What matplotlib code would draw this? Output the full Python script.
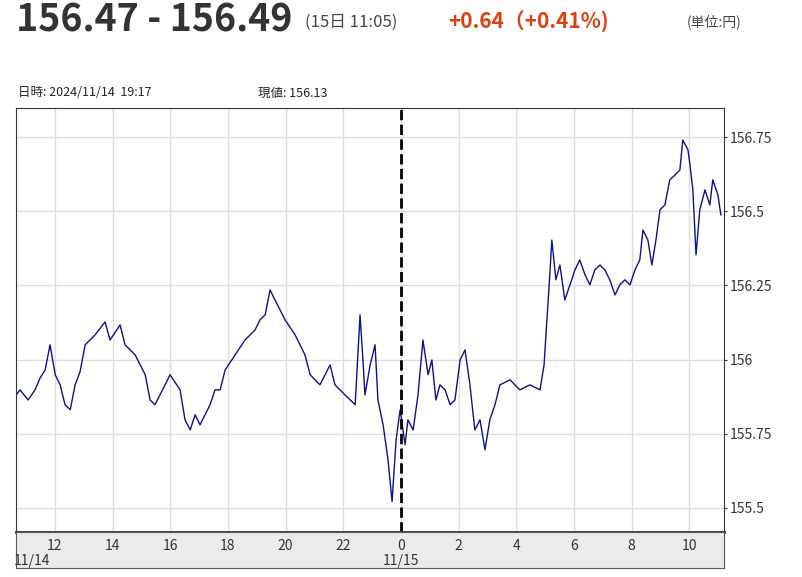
import matplotlib
matplotlib.use("Agg")
import matplotlib.pyplot as plt

plt.rcParams['font.family'] = ['Noto Sans CJK JP', 'DejaVu Sans']

# hours since 11/14 00:00
hours = [10.66,10.79,11.07,11.31,11.49,11.66,11.83,12.01,12.18,12.35,12.53,12.70,12.87,13.05,13.39,13.74,13.91,14.26,14.43,14.78,
         15.13,15.30,15.47,15.82,15.99,16.34,16.51,16.69,16.86,17.03,17.38,17.55,17.73,17.90,18.25,18.59,18.94,19.11,19.29,19.46,
         19.63,19.98,20.33,20.67,20.85,21.19,21.54,21.71,22.06,22.41,22.58,22.68,22.75,22.93,23.10,23.20,23.38,23.55,23.69,23.83,
         23.97,24.14,24.24,24.42,24.59,24.76,24.94,25.07,25.21,25.35,25.53,25.70,25.87,26.05,26.22,26.39,26.56,26.74,26.91,27.08,
         27.26,27.43,27.78,28.12,28.47,28.82,28.96,29.06,29.16,29.23,29.37,29.51,29.68,29.86,30.03,30.20,30.38,30.55,30.72,30.90,
         31.07,31.24,31.42,31.59,31.76,31.94,32.11,32.28,32.39,32.56,32.70,32.84,32.98,33.15,33.32,33.50,33.67,33.77,33.95,34.02,
         34.12,34.23,34.36,34.54,34.71,34.81,34.99,35.09]
prices = [155.881,155.898,155.864,155.898,155.939,155.965,156.050,155.949,155.915,155.848,155.831,155.915,155.959,156.050,156.083,156.127,156.066,156.117,156.050,156.016,
          155.949,155.864,155.848,155.915,155.949,155.898,155.797,155.763,155.814,155.780,155.848,155.898,155.898,155.965,156.016,156.066,156.100,156.134,156.151,156.235,
          156.201,156.134,156.083,156.016,155.949,155.915,155.982,155.915,155.881,155.848,156.151,155.999,155.881,155.982,156.050,155.864,155.780,155.662,155.521,155.730,
          155.831,155.713,155.797,155.763,155.881,156.066,155.949,155.999,155.864,155.915,155.898,155.848,155.864,155.999,156.033,155.915,155.763,155.797,155.696,155.797,
          155.848,155.915,155.932,155.898,155.915,155.898,155.982,156.134,156.286,156.403,156.269,156.319,156.201,156.252,156.302,156.336,156.286,156.252,156.302,156.319,
          156.302,156.269,156.218,156.252,156.269,156.252,156.302,156.336,156.437,156.403,156.319,156.403,156.505,156.521,156.606,156.622,156.639,156.740,156.707,156.656,
          156.572,156.353,156.505,156.572,156.521,156.606,156.555,156.488]

y_ticks = [155.5, 155.75, 156.0, 156.25, 156.5, 156.75]
y_labels = ["155.5", "155.75", "156", "156.25", "156.5", "156.75"]
x_ticks = [12, 14, 16, 18, 20, 22, 24, 26, 28, 30, 32, 34]
x_labels = ["12", "14", "16", "18", "20", "22", "0", "2", "4", "6", "8", "10"]
date_labels = [("11/14", 11.2), ("11/15", 24.0)]

W, H = 803, 577
fig = plt.figure(figsize=(W/100, H/100), dpi=100)
x0, x1 = 10.65, 35.2

ax = fig.add_axes([16/W, 1-532/H, (724-16)/W, (532-108)/H])
ax.plot(hours, prices, color='#10108a', lw=1.0)
ax.set_xlim(x0, x1)
ax.set_ylim(155.419, 156.848)
ax.set_xticks(x_ticks)
ax.set_yticks(y_ticks)
ax.grid(True, color='#dddddd', lw=1)
ax.tick_params(axis='x', length=0, labelbottom=False)
ax.yaxis.tick_right()
ax.set_yticklabels(y_labels)
ax.tick_params(axis='y', length=2, labelsize=10, colors='#333333', pad=2)
ax.axvline(24, color='black', ls='--', lw=2)
for s in ax.spines.values():
    s.set_color('#333333')
ax.spines['bottom'].set_linewidth(2)

bx = fig.add_axes([16/W, 1-568/H, (724-16)/W, 36/H])
bx.set_facecolor('#ebebeb')
bx.set_xlim(x0, x1)
bx.set_ylim(0, 1)
bx.set_yticks([])
bx.set_xticks([])
for t, l in zip(x_ticks, x_labels):
    bx.text(t, 0.62, l, ha='center', va='center', fontsize=10, color='#333333')
for l, t in date_labels:
    bx.text(t, 0.2, l, ha='center', va='center', fontsize=10, color='#333333')
for s in bx.spines.values():
    s.set_color('#555555')

fig.text(16/W, 1-20/H, "156.47 - 156.49", fontsize=27, fontweight='bold', color='#333333', va='center')
fig.text(305/W, 1-22/H, "(15日 11:05)", fontsize=12, color='#444444', va='center')
fig.text(448/W, 1-22/H, "+0.64（+0.41%)", fontsize=15, fontweight='bold', color='#d9420f', va='center')
fig.text(687/W, 1-22/H, "(単位:円)", fontsize=10, color='#444444', va='center')
fig.text(18/W, 1-93/H, "日時: 2024/11/14  19:17", fontsize=9, color='#222222', va='center')
fig.text(258/W, 1-93/H, "現値: 156.13", fontsize=9, color='#222222', va='center')

fig.savefig("out.png", dpi=100)
